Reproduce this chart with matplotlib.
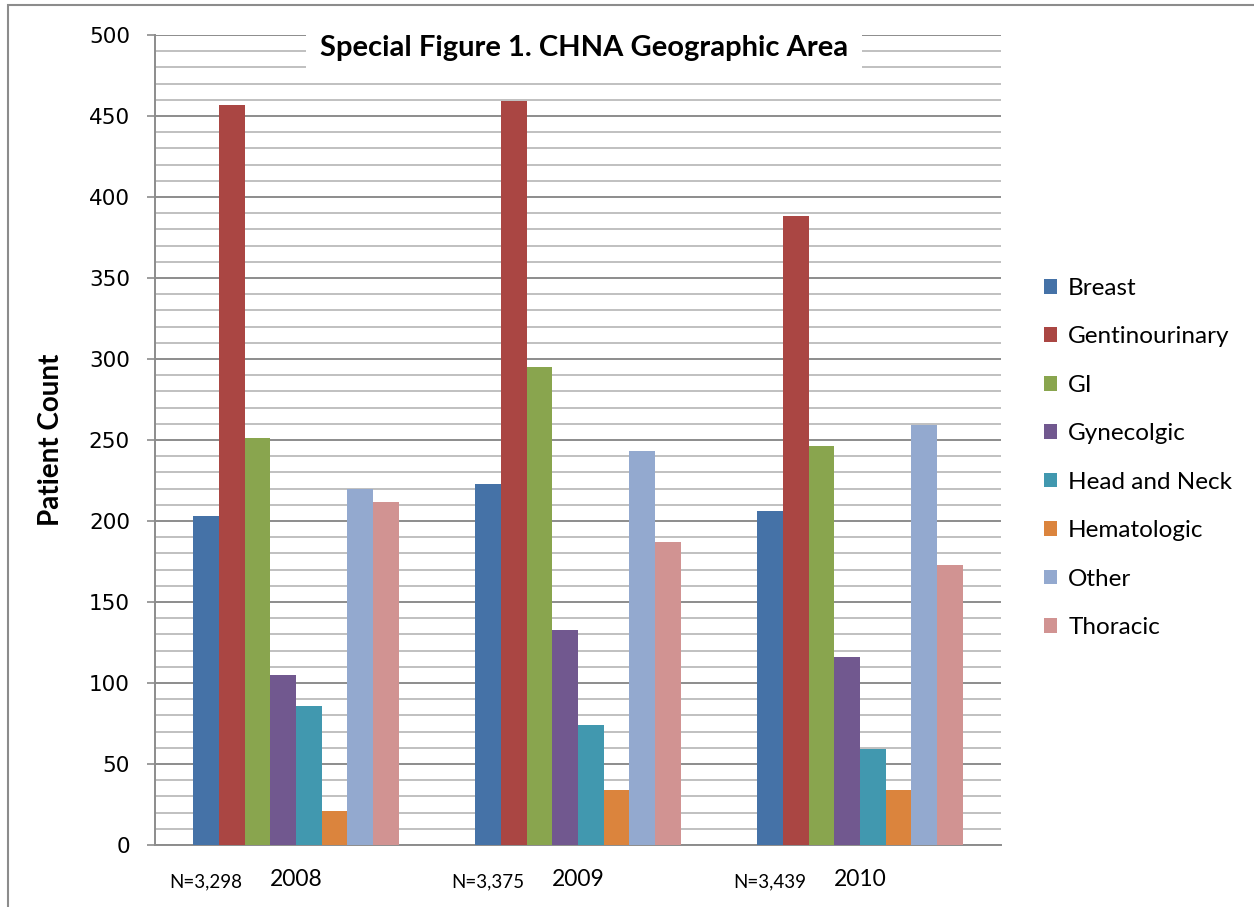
import matplotlib.pyplot as plt
from matplotlib.patches import Rectangle
from matplotlib.transforms import blended_transform_factory
import numpy as np

# data
years = ['2008', '2009', '2010']
totals = ['N=3,298', 'N=3,375', 'N=3,439']
cancer_types = ['Breast', 'Gentinourinary', 'GI', 'Gynecolgic',
                'Head and Neck', 'Hematologic', 'Other', 'Thoracic']
breast = [203, 223, 206]
genito = [457, 459, 388]
gi = [251, 295, 246]
gyn = [105, 133, 116]
head_neck = [86, 74, 59]
hemato = [21, 34, 34]
other = [220, 243, 259]
thoracic = [212, 187, 173]
series = [breast, genito, gi, gyn, head_neck, hemato, other, thoracic]

colors = ['#4572A7', '#AA4643', '#89A54E', '#71588F',
          '#4198AF', '#DB843D', '#93A9CF', '#D19392']

plt.rcParams['font.family'] = ['Lato', 'DejaVu Sans']

fig = plt.figure(figsize=(12.54, 9.07), dpi=100)
ax = fig.add_axes([155/1254, 62/907, 846/1254, 810/907])

X = np.arange(len(years))
width = 0.091
for i, (vals, name) in enumerate(zip(series, cancer_types)):
    offs = (i - 3.5) * width
    ax.bar(X + offs, vals, width, color=colors[i], label=name, linewidth=0, zorder=3)

ax.set_xlim(-0.5, 2.5)
ax.set_ylim(0, 500)
ax.set_yticks(np.arange(0, 501, 50))
ax.set_yticks(np.arange(0, 501, 10), minor=True)
ax.grid(axis='y', which='minor', color='#c0c0c0', linewidth=1.4, zorder=0)
ax.grid(axis='y', which='major', color='#8c8c8c', linewidth=1.4, zorder=1)
ax.tick_params(axis='y', which='major', length=6, width=1.2, color='#8c8c8c',
               labelsize=15.5, pad=12)
ax.tick_params(axis='y', which='minor', length=0)
for lbl in ax.get_yticklabels():
    lbl.set_family('DejaVu Sans')
ax.set_xticks([])
for s in ['top', 'right']:
    ax.spines[s].set_visible(False)
ax.spines['left'].set_color('#8c8c8c')
ax.spines['bottom'].set_color('#8c8c8c')
ax.spines['left'].set_linewidth(1.4)
ax.spines['bottom'].set_linewidth(1.4)

trans = blended_transform_factory(ax.transData, ax.transAxes)
for x, yr, n in zip(X, years, totals):
    ax.text(x, -0.043, yr, transform=trans, ha='center', va='center', fontsize=16.5)
    ax.text(x - 0.32, -0.046, n, transform=trans, ha='center', va='center', fontsize=13.5)

ax.set_ylabel('Patient Count', fontsize=20, fontweight='bold', labelpad=18)

ax.text(0.5075, 0.984, 'Special Figure 1. CHNA Geographic Area', transform=ax.transAxes,
        ha='center', va='center', fontsize=21, fontweight='bold', zorder=5,
        bbox=dict(facecolor='white', edgecolor='none', pad=10))

ax.legend(loc='center left', bbox_to_anchor=(1022/1254, (907-458)/907),
          bbox_transform=fig.transFigure, frameon=False, fontsize=17.5,
          handlelength=0.55, handleheight=0.55, handletextpad=0.45, labelspacing=1.13)

fig.patches.append(Rectangle((8/1254, -0.1), 1.2, 1 - 5/907 + 0.1, transform=fig.transFigure,
                             fill=False, edgecolor='#8c8c8c', linewidth=1.5))

plt.savefig('out.png')
